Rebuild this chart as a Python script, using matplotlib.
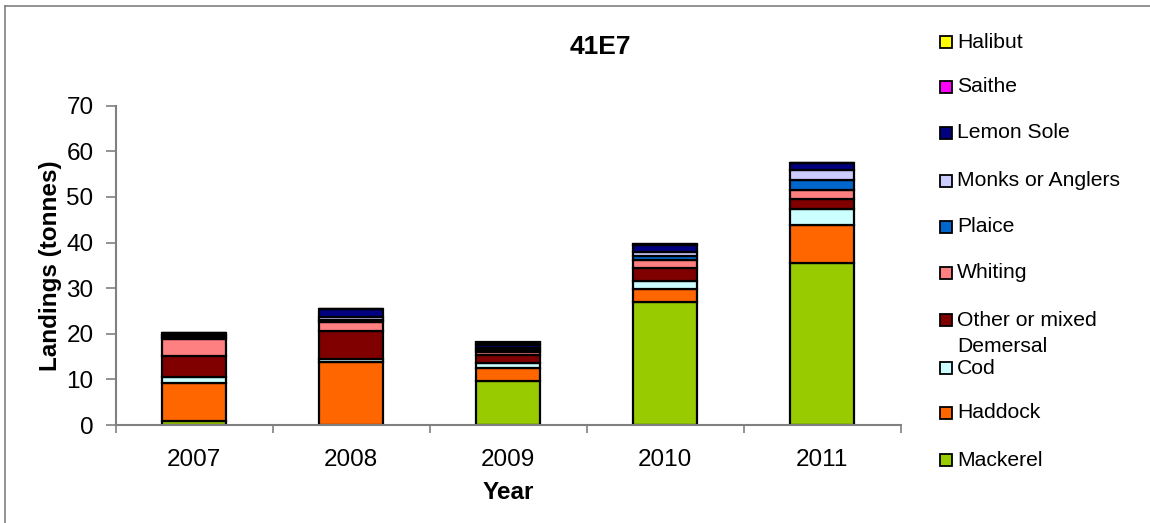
import matplotlib.pyplot as plt
import numpy as np
from matplotlib.patches import Rectangle
from matplotlib.lines import Line2D

plt.rcParams['font.family'] = ['Liberation Sans', 'DejaVu Sans']

years = ["2007", "2008", "2009", "2010", "2011"]

# landings per species (tonnes), stacked bottom to top
mackerel = [0.9, 0.0, 9.6, 27.0, 35.5]
haddock = [8.4, 13.9, 2.8, 2.8, 8.4]
cod = [1.2, 0.6, 1.2, 1.7, 3.4]
other_demersal = [4.6, 6.2, 1.8, 3.0, 2.2]
whiting = [3.8, 1.8, 0.6, 1.6, 2.0]
plaice = [0.3, 0.6, 0.4, 0.9, 2.3]
monks = [0.6, 0.6, 0.5, 1.0, 2.2]
lemon_sole = [0.4, 1.7, 0.6, 1.4, 1.4]
saithe = [0.0, 0.0, 0.5, 0.3, 0.1]
halibut = [0.0, 0.0, 0.3, 0.0, 0.0]

species = ["Mackerel", "Haddock", "Cod", "Other or mixed\nDemersal", "Whiting",
           "Plaice", "Monks or Anglers", "Lemon Sole", "Saithe", "Halibut"]
series = [mackerel, haddock, cod, other_demersal, whiting,
          plaice, monks, lemon_sole, saithe, halibut]
colours = ["#99CC00", "#FF6600", "#CCFFFF", "#800000", "#FF8080",
           "#0066CC", "#CCCCFF", "#000080", "#FF00FF", "#FFFF00"]

W, H = 1150, 523
fig = plt.figure(figsize=(11.5, 5.23), dpi=100)
ax = fig.add_axes([115.7 / W, 1 - 425 / H, 785 / W, 319.3 / H])

x = np.arange(len(years))
bottom = np.zeros(len(years))
for vals, col, name in zip(series, colours, species):
    ax.bar(x, vals, width=0.41, bottom=bottom, color=col, edgecolor="black",
           linewidth=1.6, label=name)
    bottom += np.array(vals)

ax.set_xlim(-0.5, len(years) - 0.5)
ax.set_ylim(0, 70)
ax.set_yticks(range(0, 71, 10))
ax.set_xticks(x)
ax.set_xticklabels(years)
ax.set_xticks(np.arange(-0.5, len(years), 1.0), minor=True)
ax.tick_params(axis="x", which="major", length=0, pad=17, labelsize=17.5)
ax.tick_params(axis="x", which="minor", length=6, width=1.2, color="#808080")
ax.tick_params(axis="y", length=7, width=1.2, color="#808080", pad=9, labelsize=17.5)

for side in ["top", "right"]:
    ax.spines[side].set_visible(False)
for side in ["left", "bottom"]:
    ax.spines[side].set_color("#808080")
    ax.spines[side].set_linewidth(1.5)

ax.set_ylabel("Landings (tonnes)", fontsize=17.5, fontweight="bold")
ax.yaxis.set_label_coords(-0.068, 0.5)
ax.set_xlabel("Year", fontsize=17.5, fontweight="bold")
ax.xaxis.set_label_coords(0.5, -0.175)

fig.text(600 / W, 1 - 47 / H, "41E7", fontsize=19, fontweight="bold",
         ha="center", va="center")

# legend, listed top to bottom in reverse stacking order
entry_y = [42, 87, 133, 181, 227, 273, 320, 368, 413, 460]
for name, col, yy in zip(species[::-1], colours[::-1], entry_y):
    fig.patches.append(Rectangle((940 / W, 1 - (yy + 6) / H), 12 / W, 12 / H,
                                 facecolor=col, edgecolor="black", linewidth=1.3,
                                 transform=fig.transFigure))
    lines = name.split("\n")
    for i, line in enumerate(lines):
        fig.text(957 / W, 1 - (yy + i * 26) / H, line, fontsize=15.2,
                 ha="left", va="center")

# chart frame
fig.lines.append(Line2D([4.5 / W, 4.5 / W], [0, 1 - 6 / H], color="#808080",
                        linewidth=1.2, transform=fig.transFigure))
fig.lines.append(Line2D([4.5 / W, 1], [1 - 6 / H, 1 - 6 / H], color="#808080",
                        linewidth=1.2, transform=fig.transFigure))

fig.savefig("out.png", dpi=100)
